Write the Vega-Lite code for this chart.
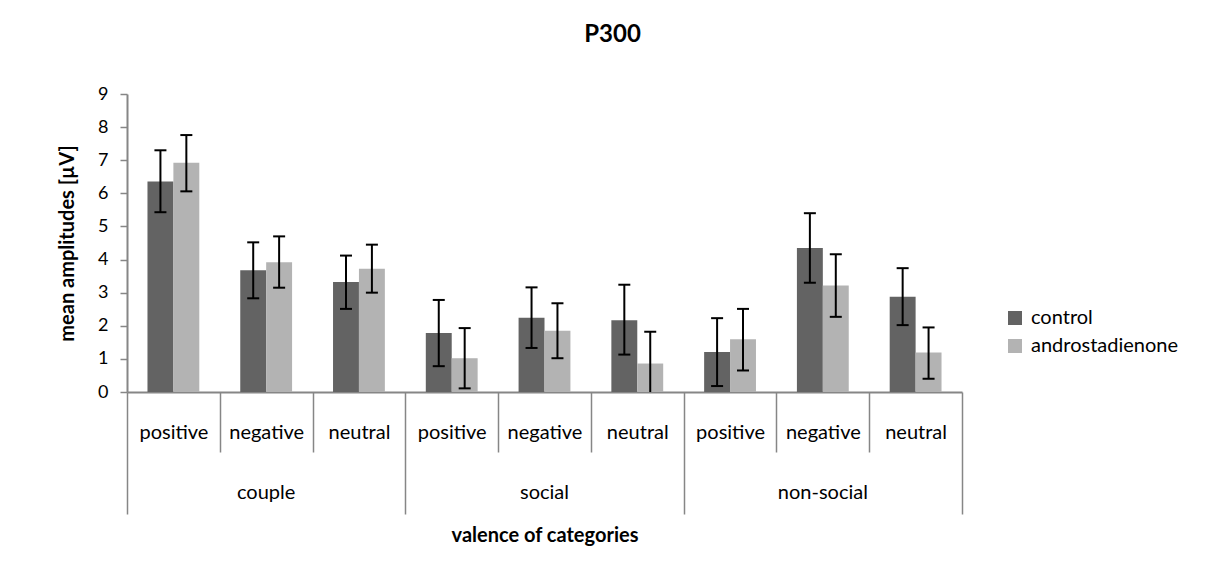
{
  "$schema": "https://vega.github.io/schema/vega-lite/v6.json",
  "width": 835,
  "height": 298,
  "autosize": {"type": "none"},
  "padding": {"left": 127, "top": 94, "right": 253, "bottom": 187},
  "background": "white",
  "title": {"text": "P300", "font": "Lato", "fontSize": 24, "fontWeight": "bold", "color": "#000000", "anchor": "middle", "dx": 68, "offset": 38},
  "config": {
    "view": {"stroke": null},
    "font": "Lato",
    "axis": {"domainColor": "#868686", "tickColor": "#868686", "domainWidth": 2, "tickWidth": 1.5, "labelFont": "Lato", "labelColor": "#000000", "titleFont": "Lato", "titleColor": "#000000", "grid": false}
  },
  "datasets": {
    "bars": [
      {"cat": "couple|positive", "group": "couple", "valence": "positive", "series": "control", "value": 6.36, "lo": 5.43, "hi": 7.30},
      {"cat": "couple|positive", "group": "couple", "valence": "positive", "series": "androstadienone", "value": 6.92, "lo": 6.06, "hi": 7.76},
      {"cat": "couple|negative", "group": "couple", "valence": "negative", "series": "control", "value": 3.68, "lo": 2.83, "hi": 4.52},
      {"cat": "couple|negative", "group": "couple", "valence": "negative", "series": "androstadienone", "value": 3.92, "lo": 3.15, "hi": 4.70},
      {"cat": "couple|neutral", "group": "couple", "valence": "neutral", "series": "control", "value": 3.32, "lo": 2.51, "hi": 4.12},
      {"cat": "couple|neutral", "group": "couple", "valence": "neutral", "series": "androstadienone", "value": 3.72, "lo": 3.00, "hi": 4.45},
      {"cat": "social|positive", "group": "social", "valence": "positive", "series": "control", "value": 1.78, "lo": 0.78, "hi": 2.78},
      {"cat": "social|positive", "group": "social", "valence": "positive", "series": "androstadienone", "value": 1.02, "lo": 0.11, "hi": 1.93},
      {"cat": "social|negative", "group": "social", "valence": "negative", "series": "control", "value": 2.24, "lo": 1.33, "hi": 3.16},
      {"cat": "social|negative", "group": "social", "valence": "negative", "series": "androstadienone", "value": 1.85, "lo": 1.02, "hi": 2.68},
      {"cat": "social|neutral", "group": "social", "valence": "neutral", "series": "control", "value": 2.17, "lo": 1.13, "hi": 3.24},
      {"cat": "social|neutral", "group": "social", "valence": "neutral", "series": "androstadienone", "value": 0.86, "lo": -0.10, "hi": 1.82},
      {"cat": "non-social|positive", "group": "non-social", "valence": "positive", "series": "control", "value": 1.21, "lo": 0.18, "hi": 2.23},
      {"cat": "non-social|positive", "group": "non-social", "valence": "positive", "series": "androstadienone", "value": 1.59, "lo": 0.65, "hi": 2.51},
      {"cat": "non-social|negative", "group": "non-social", "valence": "negative", "series": "control", "value": 4.35, "lo": 3.30, "hi": 5.40},
      {"cat": "non-social|negative", "group": "non-social", "valence": "negative", "series": "androstadienone", "value": 3.22, "lo": 2.27, "hi": 4.16},
      {"cat": "non-social|neutral", "group": "non-social", "valence": "neutral", "series": "control", "value": 2.88, "lo": 2.02, "hi": 3.74},
      {"cat": "non-social|neutral", "group": "non-social", "valence": "neutral", "series": "androstadienone", "value": 1.19, "lo": 0.40, "hi": 1.95}
    ]
  },
  "data": {"name": "bars"},
  "encoding": {
    "x": {"field": "cat", "type": "nominal",
      "scale": {"domain": ["couple|positive", "couple|negative", "couple|neutral", "social|positive", "social|negative", "social|neutral", "non-social|positive", "non-social|negative", "non-social|neutral"], "paddingInner": 0, "paddingOuter": 0}},
    "xOffset": {"field": "series", "type": "nominal", "scale": {"domain": ["control", "androstadienone"], "paddingInner": 0, "paddingOuter": 0.79}}
  },
  "layer": [
    {
      "mark": {"type": "bar"},
      "encoding": {
        "x": {"field": "cat", "type": "nominal",
          "axis": {"orient": "bottom", "title": null, "labelExpr": "split(datum.value, '|')[1]", "labelAngle": 0, "labelFontSize": 20, "labelBaseline": "middle",
            "labelPadding": {"condition": {"test": "indexof('' + datum.value, '|neutral') >= 0", "value": -82}, "value": -20},
            "tickBand": "extent",
            "tickSize": {"condition": {"test": "datum.extra || indexof('' + datum.value, '|neutral') >= 0", "value": 122}, "value": 60}}},
        "y": {"field": "value", "type": "quantitative", "scale": {"domain": [0, 9], "nice": false},
          "axis": {"title": "mean amplitudes [µV]", "values": [0, 1, 2, 3, 4, 5, 6, 7, 8, 9], "tickSize": 7, "labelFontSize": 18, "labelPadding": 12, "titleFontSize": 20, "titleFontWeight": "bold", "titlePadding": 20}},
        "color": {"field": "series", "type": "nominal", "scale": {"domain": ["control", "androstadienone"], "range": ["#636363", "#b3b3b3"]},
          "legend": {"title": null, "orient": "none", "legendX": 878, "legendY": 214, "symbolType": "square", "symbolSize": 196, "symbolStrokeWidth": 0, "labelFontSize": 20, "labelFont": "Lato", "labelColor": "#000000", "rowPadding": 8, "labelOffset": 6}}
      }
    },
    {
      "mark": {"type": "rule", "color": "#000000", "strokeWidth": 2, "clip": true},
      "encoding": {
        "x": {"field": "cat", "type": "nominal", "axis": null},
        "y": {"field": "lo", "type": "quantitative",
          "axis": {"title": "mean amplitudes [µV]", "values": [0, 1, 2, 3, 4, 5, 6, 7, 8, 9], "tickSize": 7, "labelFontSize": 18, "labelPadding": 12, "titleFontSize": 20, "titleFontWeight": "bold", "titlePadding": 20}},
        "y2": {"field": "hi"}
      }
    },
    {
      "mark": {"type": "tick", "color": "#000000", "thickness": 2, "size": 12, "clip": true, "opacity": 1},
      "encoding": {
        "x": {"field": "cat", "type": "nominal", "axis": null},
        "y": {"field": "lo", "type": "quantitative",
          "axis": {"title": "mean amplitudes [µV]", "values": [0, 1, 2, 3, 4, 5, 6, 7, 8, 9], "tickSize": 7, "labelFontSize": 18, "labelPadding": 12, "titleFontSize": 20, "titleFontWeight": "bold", "titlePadding": 20}}
      }
    },
    {
      "mark": {"type": "tick", "color": "#000000", "thickness": 2, "size": 12, "opacity": 1},
      "encoding": {
        "x": {"field": "cat", "type": "nominal", "axis": null},
        "y": {"field": "hi", "type": "quantitative",
          "axis": {"title": "mean amplitudes [µV]", "values": [0, 1, 2, 3, 4, 5, 6, 7, 8, 9], "tickSize": 7, "labelFontSize": 18, "labelPadding": 12, "titleFontSize": 20, "titleFontWeight": "bold", "titlePadding": 20}}
      }
    },
    {
      "mark": {"type": "tick", "opacity": 0},
      "encoding": {
        "x": {"field": "cat", "type": "nominal",
          "axis": {"orient": "bottom", "title": "valence of categories", "titleFontSize": 20, "titleFontWeight": "bold", "titlePadding": 23, "domain": false, "ticks": false, "labelAngle": 0, "labelFontSize": 20, "labelBaseline": "middle", "labelPadding": 100, "labelExpr": "indexof(datum.value, '|negative') >= 0 ? split(datum.value, '|')[0] : ''"}},
        "y": {"field": "value", "type": "quantitative",
          "axis": {"title": "mean amplitudes [µV]", "values": [0, 1, 2, 3, 4, 5, 6, 7, 8, 9], "tickSize": 7, "labelFontSize": 18, "labelPadding": 12, "titleFontSize": 20, "titleFontWeight": "bold", "titlePadding": 20}}
      }
    }
  ],
  "resolve": {"axis": {"x": "independent"}}
}
